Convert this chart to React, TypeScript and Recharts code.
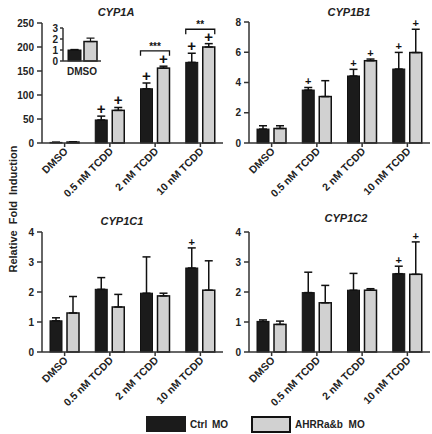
import { BarChart, Bar, XAxis, YAxis, ErrorBar } from 'recharts';

const FONT = '"Liberation Sans", Arial, sans-serif';
const BLACK = '#1b1b1b';
const GREY = '#d1d1d1';
const AXIS = '#333333';

const categories = ['DMSO', '0.5 nM TCDD', '2 nM TCDD', '10 nM TCDD'];

// CYP1A
const cyp1aCtrl = [1.2, 48, 113, 168];
const cyp1aCtrlErr = [0.3, 8, 12, 19];
const cyp1aAhrr = [2, 68, 156, 200];
const cyp1aAhrrErr = [0.5, 6, 4, 7];
const cyp1aCtrlPlus = [false, true, true, true];
const cyp1aAhrrPlus = [false, true, true, true];
const cyp1aSig = ['', '', '***', '**'];
const cyp1aSigY = [0, 0, 192, 237];

// CYP1A inset (DMSO only)
const insetCategories = ['DMSO'];
const insetCtrl = [1.0];
const insetCtrlErr = [0.05];
const insetAhrr = [1.77];
const insetAhrrErr = [0.31];

// CYP1B1
const cyp1b1Ctrl = [0.92, 3.5, 4.43, 4.89];
const cyp1b1CtrlErr = [0.22, 0.17, 0.44, 1.1];
const cyp1b1Ahrr = [0.96, 3.07, 5.44, 5.98];
const cyp1b1AhrrErr = [0.18, 1.05, 0.11, 1.54];
const cyp1b1CtrlPlus = [false, true, true, true];
const cyp1b1AhrrPlus = [false, false, true, true];

// CYP1C1
const cyp1c1Ctrl = [1.04, 2.09, 1.96, 2.8];
const cyp1c1CtrlErr = [0.1, 0.39, 1.21, 0.67];
const cyp1c1Ahrr = [1.3, 1.5, 1.87, 2.06];
const cyp1c1AhrrErr = [0.55, 0.42, 0.09, 0.98];
const cyp1c1CtrlPlus = [false, false, false, true];
const cyp1c1AhrrPlus = [false, false, false, false];

// CYP1C2
const cyp1c2Ctrl = [1.02, 1.98, 2.06, 2.61];
const cyp1c2CtrlErr = [0.05, 0.68, 0.56, 0.25];
const cyp1c2Ahrr = [0.92, 1.64, 2.06, 2.59];
const cyp1c2AhrrErr = [0.11, 0.58, 0.05, 1.08];
const cyp1c2CtrlPlus = [false, false, false, true];
const cyp1c2AhrrPlus = [false, false, false, true];

function buildRows(
  names: string[],
  ctrl: number[],
  ctrlErr: number[],
  ahrr: number[],
  ahrrErr: number[],
  ctrlPlus: boolean[] = [],
  ahrrPlus: boolean[] = [],
  sig: string[] = [],
  sigY: number[] = []
) {
  return names.map((name, i) => ({
    name,
    ctrl: ctrl[i],
    ctrlErr: [0, ctrlErr[i]],
    ahrr: ahrr[i],
    ahrrErr: [0, ahrrErr[i]],
    ctrlPlus: !!ctrlPlus[i],
    ahrrPlus: !!ahrrPlus[i],
    sig: sig[i] || '',
    sigY: sigY[i] || 0,
  }));
}

// bar with its "+" marker (and the significance bracket on the grey bar)
function makeShape(kind: 'ctrl' | 'ahrr', plusSize: number, gap: number) {
  return (props: any) => {
    const { x, y, width, height, payload } = props;
    const v = payload[kind];
    const k = v ? height / v : 0;
    const errTop = y - payload[kind + 'Err'][1] * k;
    const cx = x + width / 2;
    const grey = kind === 'ahrr';
    let bracket = null;
    if (grey && payload.sig) {
      const yb = y + height - payload.sigY * k;
      const x1 = x - gap - width;
      const x2 = x + width;
      bracket = (
        <g>
          <path d={`M${x1},${yb + 5}V${yb}H${x2}V${yb + 5}`} fill="none" stroke="#111" strokeWidth={1.3} />
          <text x={(x1 + x2) / 2} y={yb - 1} textAnchor="middle" fontSize={10} fontWeight={700} fontFamily={FONT} fill="#111">
            {payload.sig}
          </text>
        </g>
      );
    }
    return (
      <g>
        <rect
          x={x}
          y={y}
          width={width}
          height={Math.max(height, 0)}
          fill={grey ? GREY : BLACK}
          stroke="#111"
          strokeWidth={grey ? 1.5 : 1}
        />
        {payload[kind + 'Plus'] && (
          <text x={cx} y={errTop - 2} textAnchor="middle" fontSize={plusSize} fontWeight={700} fontFamily={FONT} fill="#111">
            +
          </text>
        )}
        {bracket}
      </g>
    );
  };
}

function SlantTick(props: any) {
  const { x, y, payload } = props;
  const ax = x + 4;
  const ay = y + 3;
  return (
    <text
      x={ax}
      y={ay}
      transform={`rotate(-45, ${ax}, ${ay})`}
      textAnchor="end"
      fontSize={10.5}
      fontWeight={700}
      fontFamily={FONT}
      fill="#222"
    >
      {payload.value}
    </text>
  );
}

const tickStyle = { fontSize: 10, fontWeight: 700, fill: '#222', fontFamily: FONT };
const lineStyle = { stroke: AXIS, strokeWidth: 1.5 };

type PanelProps = {
  rows: any[];
  left: number;
  top: number;
  marginTop: number;
  marginRight: number;
  width: number;
  plotHeight: number;
  domain: [number, number];
  ticks: number[];
  plusSize: number;
};

const BAR = 12;
const GAP = 5;

function Panel({ rows, left, top, marginTop, marginRight, width, plotHeight, domain, ticks, plusSize }: PanelProps) {
  const xHeight = 57;
  return (
    <div style={{ position: 'absolute', left, top }}>
      <BarChart
        width={width}
        height={marginTop + plotHeight + xHeight}
        data={rows}
        margin={{ top: marginTop, right: marginRight, bottom: 0, left: 0 }}
        barSize={BAR}
        barGap={GAP}
      >
        <XAxis
          dataKey="name"
          height={xHeight}
          interval={0}
          tickSize={4}
          tickMargin={2}
          axisLine={lineStyle}
          tickLine={lineStyle}
          tick={<SlantTick />}
        />
        <YAxis
          width={42}
          domain={domain}
          ticks={ticks}
          interval={0}
          tickSize={5}
          tickMargin={3}
          axisLine={lineStyle}
          tickLine={lineStyle}
          tick={tickStyle}
        />
        <Bar dataKey="ctrl" isAnimationActive={false} shape={makeShape('ctrl', plusSize, GAP)}>
          <ErrorBar dataKey="ctrlErr" direction="y" width={4} stroke="#111" strokeWidth={1.5} />
        </Bar>
        <Bar dataKey="ahrr" isAnimationActive={false} shape={makeShape('ahrr', plusSize, GAP)}>
          <ErrorBar dataKey="ahrrErr" direction="y" width={4} stroke="#111" strokeWidth={1.5} />
        </Bar>
      </BarChart>
    </div>
  );
}

function Inset() {
  const rows = buildRows(insetCategories, insetCtrl, insetCtrlErr, insetAhrr, insetAhrrErr);
  return (
    <div style={{ position: 'absolute', left: 45, top: 22 }}>
      <BarChart
        width={56}
        height={55}
        data={rows}
        margin={{ top: 6, right: 0, bottom: 0, left: 0 }}
        barSize={13}
        barGap={3}
      >
        <XAxis dataKey="name" height={16} tickLine={false} axisLine={lineStyle} tick={tickStyle} tickMargin={1} />
        <YAxis
          width={18}
          domain={[0, 3]}
          ticks={[0, 1, 2, 3]}
          interval={0}
          tickSize={3}
          tickMargin={2}
          axisLine={lineStyle}
          tickLine={lineStyle}
          tick={tickStyle}
        />
        <Bar dataKey="ctrl" isAnimationActive={false} shape={makeShape('ctrl', 12, 3)}>
          <ErrorBar dataKey="ctrlErr" direction="y" width={4} stroke="#111" strokeWidth={1.2} />
        </Bar>
        <Bar dataKey="ahrr" isAnimationActive={false} shape={makeShape('ahrr', 12, 3)}>
          <ErrorBar dataKey="ahrrErr" direction="y" width={4} stroke="#111" strokeWidth={1.2} />
        </Bar>
      </BarChart>
    </div>
  );
}

const titleStyle = { fontSize: 11, fontWeight: 700, fontStyle: 'italic' as const, fontFamily: FONT, fill: '#222' };

export default function App() {
  const rowsA = buildRows(categories, cyp1aCtrl, cyp1aCtrlErr, cyp1aAhrr, cyp1aAhrrErr, cyp1aCtrlPlus, cyp1aAhrrPlus, cyp1aSig, cyp1aSigY);
  const rowsB = buildRows(categories, cyp1b1Ctrl, cyp1b1CtrlErr, cyp1b1Ahrr, cyp1b1AhrrErr, cyp1b1CtrlPlus, cyp1b1AhrrPlus);
  const rowsC = buildRows(categories, cyp1c1Ctrl, cyp1c1CtrlErr, cyp1c1Ahrr, cyp1c1AhrrErr, cyp1c1CtrlPlus, cyp1c1AhrrPlus);
  const rowsD = buildRows(categories, cyp1c2Ctrl, cyp1c2CtrlErr, cyp1c2Ahrr, cyp1c2AhrrErr, cyp1c2CtrlPlus, cyp1c2AhrrPlus);

  return (
    <div style={{ position: 'absolute', left: 0, top: 0, width: 432, height: 434, background: '#fff', overflow: 'hidden' }}>
      <Panel rows={rowsA} left={0} top={0} marginTop={23} marginRight={0} width={223} plotHeight={120} domain={[0, 250]} ticks={[0, 50, 100, 150, 200, 250]} plusSize={15} />
      <Panel rows={rowsB} left={207} top={0} marginTop={22} marginRight={2} width={225} plotHeight={121} domain={[0, 8]} ticks={[0, 2, 4, 6, 8]} plusSize={11} />
      <Panel rows={rowsC} left={0} top={200} marginTop={32} marginRight={0} width={223} plotHeight={120} domain={[0, 4]} ticks={[0, 1, 2, 3, 4]} plusSize={11} />
      <Panel rows={rowsD} left={207} top={200} marginTop={32} marginRight={2} width={225} plotHeight={120} domain={[0, 4]} ticks={[0, 1, 2, 3, 4]} plusSize={11} />
      <Inset />

      <svg width={432} height={434} style={{ position: 'absolute', left: 0, top: 0, pointerEvents: 'none' }}>
        <text x={116} y={16} textAnchor="middle" {...titleStyle}>CYP1A</text>
        <text x={349} y={16} textAnchor="middle" {...titleStyle}>CYP1B1</text>
        <text x={122} y={225} textAnchor="middle" {...titleStyle}>CYP1C1</text>
        <text x={346} y={222} textAnchor="middle" {...titleStyle}>CYP1C2</text>
        <text
          x={13}
          y={209}
          transform="rotate(-90, 13, 209)"
          textAnchor="middle"
          dominantBaseline="central"
          fontSize={11}
          fontWeight={700}
          fontFamily={FONT}
          fill="#222"
          wordSpacing={3}
        >
          Relative Fold Induction
        </text>

        <rect x={146} y={416} width={40} height={16} fill={BLACK} />
        <text x={190} y={428} fontSize={10} fontWeight={700} fontFamily={FONT} fill="#222" wordSpacing={2}>
          Ctrl MO
        </text>
        <rect x={252} y={417} width={38} height={15} fill={GREY} stroke="#111" strokeWidth={2} />
        <text x={295} y={428} fontSize={10} fontWeight={700} fontFamily={FONT} fill="#222" wordSpacing={3}>
          AHRRa&amp;b MO
        </text>
      </svg>
    </div>
  );
}
